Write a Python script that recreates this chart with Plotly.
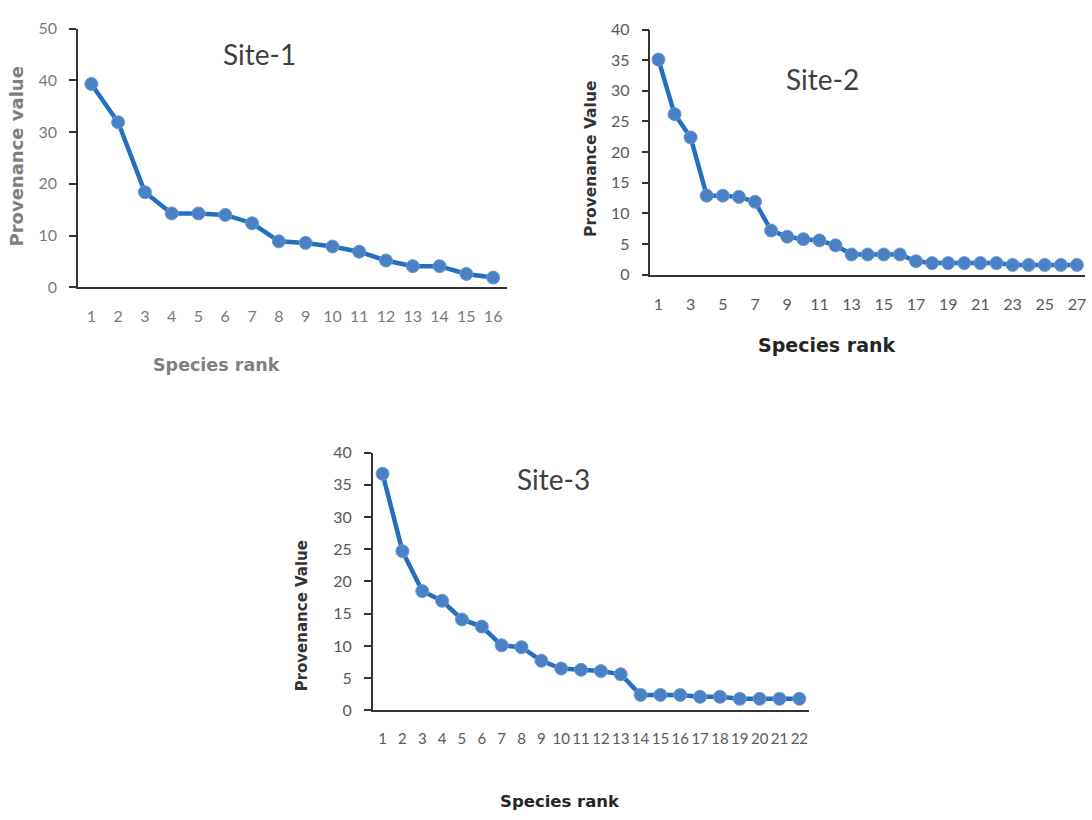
import plotly.graph_objects as go

# ---- data ----
site1_rank = list(range(1, 17))
site1_vals = [39.3, 31.9, 18.4, 14.3, 14.3, 14.0, 12.4, 8.9, 8.6, 7.9, 6.9, 5.2, 4.1, 4.1, 2.6, 1.9]

site2_rank = list(range(1, 28))
site2_vals = [35.1, 26.2, 22.4, 12.9, 12.9, 12.7, 11.9, 7.2, 6.2, 5.8, 5.6, 4.8, 3.3, 3.3, 3.3, 3.3,
              2.2, 1.9, 1.9, 1.9, 1.9, 1.9, 1.6, 1.6, 1.6, 1.6, 1.6]

site3_rank = list(range(1, 23))
site3_vals = [36.7, 24.7, 18.5, 17.0, 14.1, 13.0, 10.1, 9.8, 7.7, 6.5, 6.3, 6.1, 5.6,
              2.4, 2.4, 2.4, 2.1, 2.1, 1.8, 1.8, 1.8, 1.8]

site1_xticks = list(range(1, 17))
site2_xticks = list(range(1, 28, 2))
site3_xticks = list(range(1, 23))

titles = ["Site-1", "Site-2", "Site-3"]

W, H = 1092, 820
LINE_COLOR = "#2470bf"
MARKER_COLOR = "#4a80c4"
TICK_FAMILY = "Lato, Open Sans, sans-serif"


def px(x):
    return x / W


def py(y):
    return 1 - y / H


fig = go.Figure()

sites = [
    (site1_rank, site1_vals, "x", "y"),
    (site2_rank, site2_vals, "x2", "y2"),
    (site3_rank, site3_vals, "x3", "y3"),
]
for r, v, xa, ya in sites:
    fig.add_trace(go.Scatter(
        x=r, y=v, xaxis=xa, yaxis=ya, mode="lines+markers",
        line=dict(color=LINE_COLOR, width=4.5),
        marker=dict(color=MARKER_COLOR, size=13, line=dict(color="#6d9ad3", width=1)),
        showlegend=False, cliponaxis=False,
    ))

# panel geometry (pixels)
panels = [
    dict(x0=78, x1=507, y0=19, y1=284, n=16, ymax=50, dy=10, ticks=site1_xticks,
         tc="#7a7a7a", xs=16),
    dict(x0=651, x1=1086, y0=20, y1=271, n=27, ymax=40, dy=5, ticks=site2_xticks,
         tc="#595959", xs=16),
    dict(x0=373, x1=810, y0=453, y1=717, n=22, ymax=40, dy=5, ticks=site3_xticks,
         tc="#595959", xs=15),
]

layout = {}
for i, p in enumerate(panels):
    sfx = "" if i == 0 else str(i + 1)
    layout["xaxis" + sfx] = dict(
        domain=[px(p["x0"]), px(p["x1"])],
        anchor="y" + sfx,
        range=[0.5, p["n"] + 0.5],
        tickvals=p["ticks"], ticktext=[str(t) for t in p["ticks"]],
        tickangle=0,
        showline=True, linecolor="#333333", linewidth=1.5,
        showgrid=False, zeroline=False, ticks="",
        tickfont=dict(family=TICK_FAMILY, size=p["xs"], color=p["tc"]),
        ticklabelstandoff=14,
        fixedrange=True,
    )
    layout["yaxis" + sfx] = dict(
        domain=[py(p["y1"]), py(p["y0"])],
        anchor="x" + sfx,
        range=[0, p["ymax"]],
        dtick=p["dy"], tick0=0,
        showline=True, linecolor="#333333", linewidth=1.5,
        showgrid=False, zeroline=False,
        ticks="outside", ticklen=7, tickcolor="#333333", tickwidth=1.5,
        tickfont=dict(family=TICK_FAMILY, size=16, color=p["tc"]),
        ticklabelstandoff=9,
        fixedrange=True,
    )

fig.update_layout(**layout)

annotations = []
# site titles
title_pos = [(260, 45), (823, 71), (554, 480)]
for t, (x, y) in zip(titles, title_pos):
    annotations.append(dict(text=t, x=px(x), y=py(y), xref="paper", yref="paper",
                            showarrow=False, xanchor="center", yanchor="middle",
                            font=dict(family="Lato, Open Sans, sans-serif", size=28, color="#404040")))

# axis titles
ytitles = [("Provenance value", 17, 150, "#7f7f7f", 18),
           ("Provenance Value", 592, 152, "#333333", 15.5),
           ("Provenance Value", 302, 620, "#333333", 15)]
for t, x, y, c, s in ytitles:
    annotations.append(dict(text="<b>" + t + "</b>", x=px(x), y=py(y), xref="paper", yref="paper",
                            showarrow=False, textangle=-90, xanchor="center", yanchor="middle",
                            font=dict(family="DejaVu Sans, sans-serif", size=s, color=c)))

xtitles = [("Species rank", 217, 363, "#7f7f7f", 17.5),
           ("Species rank", 827, 343, "#262626", 19),
           ("Species rank", 561, 810, "#262626", 16.5)]
for t, x, y, c, s in xtitles:
    annotations.append(dict(text="<b>" + t + "</b>", x=px(x), y=py(y), xref="paper", yref="paper",
                            showarrow=False, xanchor="center", yanchor="middle",
                            font=dict(family="DejaVu Sans, sans-serif", size=s, color=c)))

fig.update_layout(
    width=W, height=H,
    margin=dict(l=0, r=0, t=0, b=0),
    paper_bgcolor="white", plot_bgcolor="white",
    annotations=annotations,
)

fig.write_html("out.html", config={"displayModeBar": False},
               post_script="document.body.style.margin='0';document.body.style.overflow='hidden';")
